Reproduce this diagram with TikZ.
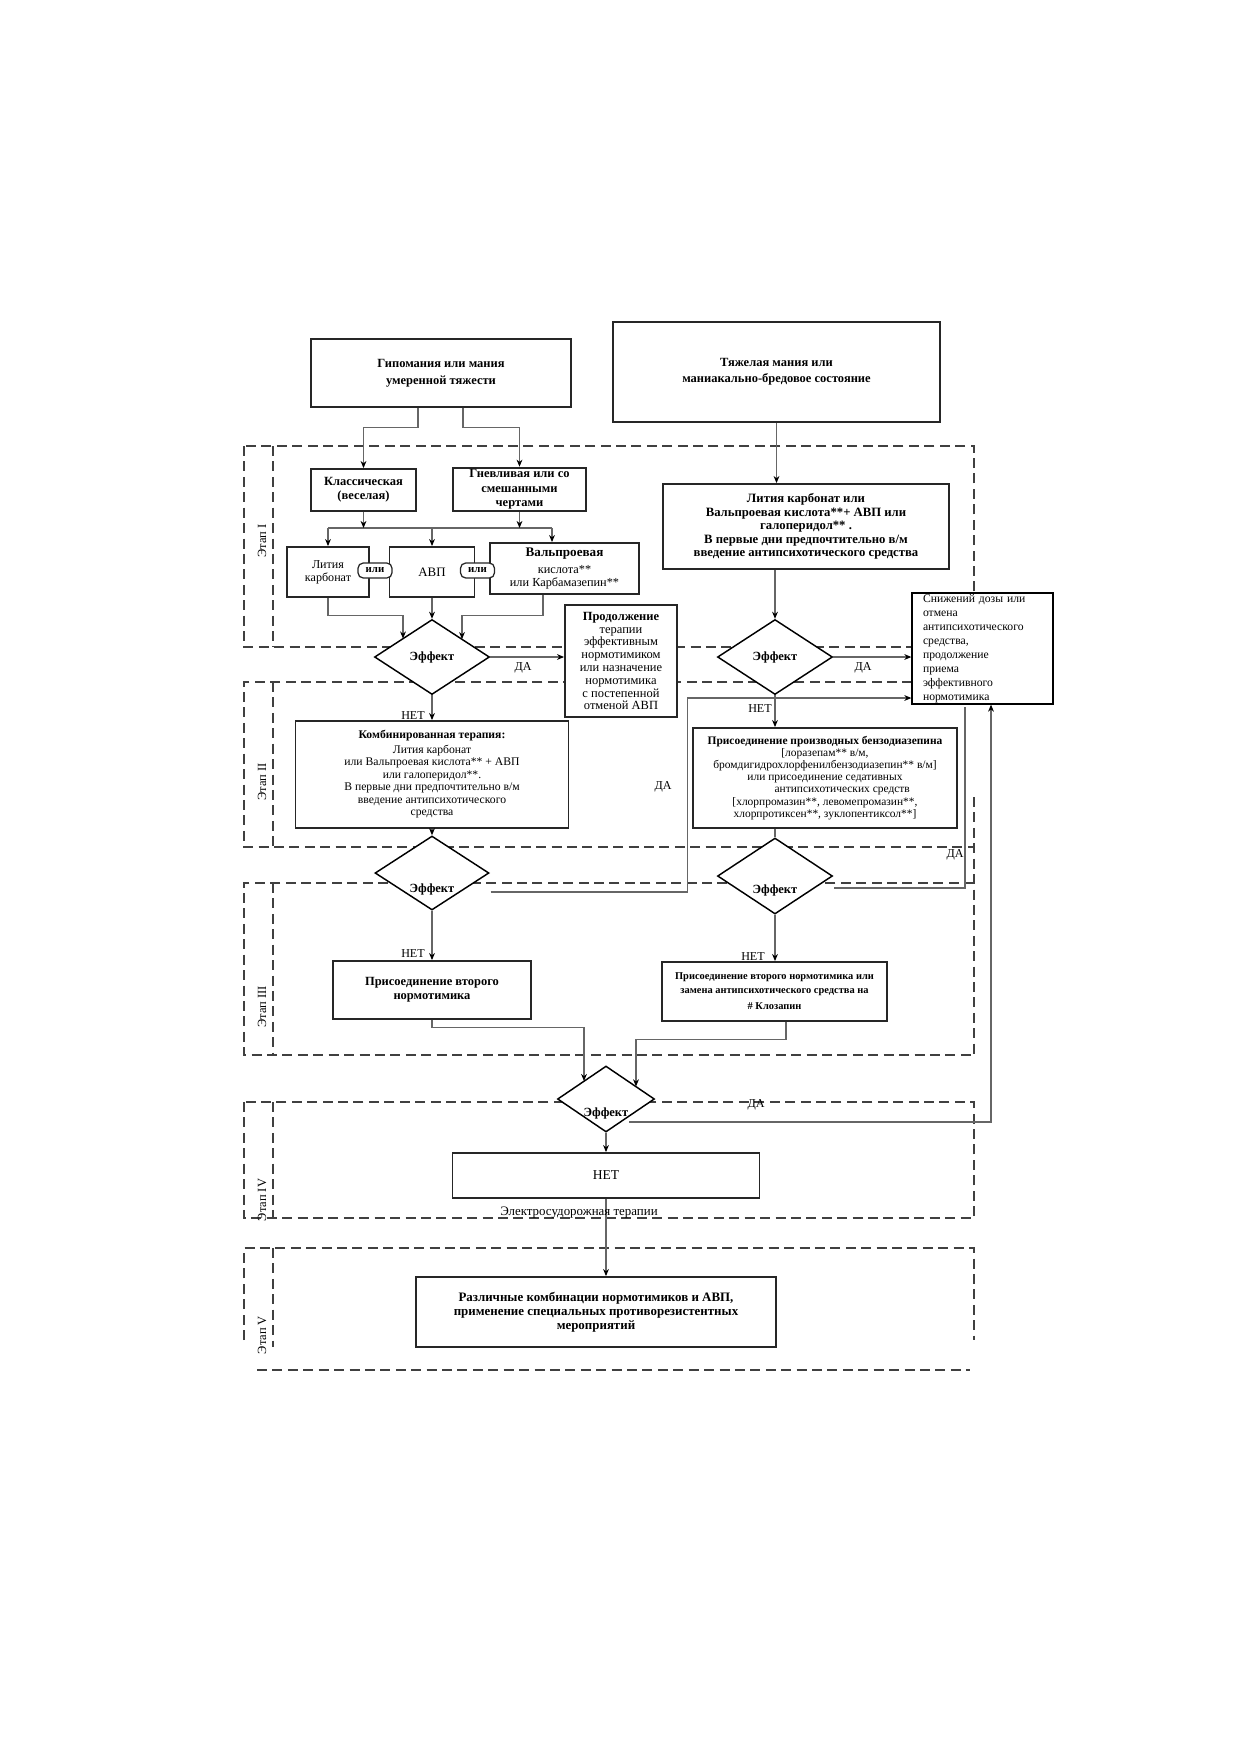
\documentclass[tikz,border=0pt]{standalone}
\usepackage{fontspec}
\setmainfont{Liberation Serif}
\usetikzlibrary{arrows.meta,shapes.geometric,calc}
\pgfdeclarelayer{bg}
\pgfsetlayers{bg,main}
\newcommand\pxw[1]{#1*0.48pt}
\newcommand\myfs[2]{\fontsize{#1}{#2}\selectfont}
\tikzset{
 box/.style={draw=black!85, line width=0.9pt, fill=white, align=center, inner sep=1pt},
 thinbox/.style={draw=black, line width=0.6pt, fill=white},
 conn/.style={draw=black!60, line width=0.5pt},
 arr/.style={conn, -{Stealth[length=3.4pt,width=2.8pt,color=black]}},
 stage/.style={draw=black!75, line width=1pt, dash pattern=on 4.8pt off 2.6pt},
 dec/.style={draw=black, line width=0.7pt, shape=diamond, inner sep=0pt, fill=white},
 lbl/.style={font=\myfs{5.8}{6.5}, inner sep=0pt},
 elbl/.style={font=\myfs{6}{7}\bfseries, inner sep=0pt},
 ili/.style={draw=black!85, line width=0.6pt, fill=white, rounded corners=2.5pt, inner sep=0pt, minimum width=\pxw{34}, minimum height=\pxw{15}, font=\myfs{5.2}{6}\bfseries},
 stlbl/.style={rotate=90, font=\myfs{6}{7}, inner sep=0pt},
}
\begin{document}
\begin{tikzpicture}[x=0.48pt,y=-0.48pt]
\useasboundingbox (0,0) rectangle (1240,1754);
\begin{pgfonlayer}{bg}
\fill[white] (0,0) rectangle (1240,1754);
% Stage I
\draw[stage] (244,446) rectangle (974,647);
\draw[stage] (273,446) -- (273,647);
% Stage II
\draw[stage] (974,682) -- (244,682) -- (244,847) -- (974,847);
\draw[stage] (273,682) -- (273,847);
% Stage III
\draw[stage] (974,883) -- (244,883) -- (244,1055) -- (974,1055);
\draw[stage] (273,883) -- (273,1055);
\draw[stage] (974,797) -- (974,1055);
% Stage IV
\draw[stage] (244,1102) rectangle (974,1218);
\draw[stage] (273,1102) -- (273,1218);
% Stage V
\draw[stage] (244,1340) -- (244,1248) -- (974,1248) -- (974,1340);
\draw[stage] (273,1248) -- (273,1347);
\draw[stage] (257,1370) -- (970,1370);
\end{pgfonlayer}

% stage labels
\node[stlbl] (s1) at (262,541) {Этап I};
\node[stlbl] (s2) at (262,782) {Этап II};
\node[stlbl] (s3) at (262,1007) {Этап III};
\node[stlbl] (s4) at (262,1200) {Этап IV};
\node[stlbl] (s5) at (262,1335) {Этап V};

% nodes
\node[box, minimum width=\pxw{260}, minimum height=\pxw{68}, font=\myfs{6}{8}\bfseries] (top1) at (441,373) {Гипомания или мания\\умеренной тяжести};
\node[box, minimum width=\pxw{327}, minimum height=\pxw{100}, font=\myfs{6}{7.8}\bfseries] (top2) at (776.5,372) {Тяжелая мания или\\маниакально-бредовое состояние};
\node[box, minimum width=\pxw{105}, minimum height=\pxw{42}, font=\myfs{6}{6.9}\bfseries] (klass) at (363.5,490) {Классическая\\(веселая)};
\node[box, minimum width=\pxw{133}, minimum height=\pxw{43}, font=\myfs{6}{6.9}\bfseries] (gnev) at (519.5,489.5) {Гневливая или со\\смешанными\\чертами};
\node[box, minimum width=\pxw{82}, minimum height=\pxw{50}, font=\myfs{5.8}{6.4}] (lit) at (328,572) {Лития\\карбонат};
\node[box, minimum width=\pxw{85}, minimum height=\pxw{50}, font=\myfs{6.2}{7}] (avp) at (432,572) {АВП};
\node[box, minimum width=\pxw{149}, minimum height=\pxw{51}, font=\myfs{5.9}{6.6}] (valp) at (564.5,568.5) {\textbf{\myfs{6.3}{7}Вальпроевая}\\[1.5pt]кислота**\\или Карбамазепин**};
\node[ili] (ili1) at (375,570.5) {или};
\node[ili] (ili2) at (477.5,570.5) {или};
\node[box, minimum width=\pxw{286}, minimum height=\pxw{85}, font=\myfs{6.1}{6.5}\bfseries] (litR) at (806,526.5) {Лития карбонат или\\Вальпроевая кислота**+ АВП или\\галоперидол** .\\В первые дни предпочтительно в/м\\введение антипсихотического средства};

\node[dec, minimum width=\pxw{115}, minimum height=\pxw{75}, label={[elbl]center:Эффект}] (d1L) at (432,657) {};
\node[box, minimum width=\pxw{112}, minimum height=\pxw{112}, font=\myfs{6}{6.15}] (prod) at (621,661) {\textbf{Продолжение}\\терапии\\эффективным\\нормотимиком\\или назначение\\нормотимика\\с постепенной\\отменой АВП};
\node[dec, minimum width=\pxw{115}, minimum height=\pxw{75}, label={[elbl]center:Эффект}] (d1R) at (775,657) {};
\node[thinbox, minimum width=\pxw{141}, minimum height=\pxw{111}, text width=\pxw{119}, inner xsep=\pxw{11}, inner ysep=0pt, align=left, font=\myfs{5.6}{6.7}] (snizh) at (982.5,648.5) {Снижений дозы или\\отмена\\антипсихотического\\средства,\\продолжение\\приема\\эффективного\\нормотимика};

\node[box, minimum width=\pxw{273}, minimum height=\pxw{107}, font=\myfs{5.6}{6}] (komb) at (432,774.5) {\textbf{Комбинированная терапия:}\\[1pt]Лития карбонат\\или Вальпроевая кислота** + АВП\\или галоперидол**.\\В первые дни предпочтительно в/м\\введение антипсихотического\\средства};
\node[box, minimum width=\pxw{264}, minimum height=\pxw{100}, font=\myfs{5.5}{5.8}] (prisR) at (825,778) {\textbf{Присоединение производных бензодиазепина}\\{}[лоразепам** в/м,\\бромдигидрохлорфенилбензодиазепин** в/м]\\или присоединение седативных\\\hspace*{3em}антипсихотических средств\\{}[хлорпромазин**, левомепромазин**,\\хлорпротиксен**, зуклопентиксол**]};

\node[dec, minimum width=\pxw{114}, minimum height=\pxw{74}, label={[elbl,yshift=-\pxw{16}]center:Эффект}] (d2L) at (432,873) {};
\node[dec, minimum width=\pxw{115}, minimum height=\pxw{76}, label={[elbl,yshift=-\pxw{14}]center:Эффект}] (d2R) at (775,876) {};
\node[box, minimum width=\pxw{198}, minimum height=\pxw{58}, font=\myfs{6}{6.9}\bfseries] (vtorL) at (432,990) {Присоединение второго\\нормотимика};
\node[box, minimum width=\pxw{225}, minimum height=\pxw{59}, font=\myfs{5}{6.5}\bfseries] (vtorR) at (774.5,991.5) {Присоединение второго нормотимика или\\замена антипсихотического средства на\\[1.5pt]\# Клозапин};
\node[dec, minimum width=\pxw{97}, minimum height=\pxw{66}, label={[elbl,yshift=-\pxw{14}]center:Эффект}] (d3) at (606,1099) {};
\node[box, minimum width=\pxw{307}, minimum height=\pxw{45}, font=\myfs{6.5}{7}] (net) at (606,1175.5) {НЕТ};
\node[box, minimum width=\pxw{360}, minimum height=\pxw{70}, font=\myfs{6.2}{6.6}\bfseries] (razl) at (596,1312) {Различные комбинации нормотимиков и АВП,\\применение специальных противорезистентных\\мероприятий};

% connectors
\draw[arr] ([xshift=\pxw{-23}]top1.south) -- ++(0,20) -| (klass.north);
\draw[arr] ([xshift=\pxw{22}]top1.south) -- ++(0,20) -| (gnev.north);
\draw[arr] (top2.south) -- (top2.south |- litR.north);

\coordinate (bL) at (328,528);
\coordinate (bR) at (552,528);
\draw[conn] (bL) -- (bR);
\draw[arr] (klass.south) -- (klass.south |- bL);
\draw[arr] (gnev.south) -- (gnev.south |- bL);
\draw[arr] (bL) -- (lit.north);
\draw[arr] (avp.north |- bL) -- (avp.north);
\draw[arr] (bR) -- (bR |- valp.north);

\draw[arr] (lit.south) -- ++(0,18) -| ($(d1L.center)+(-29,-18.5)$);
\draw[arr] (avp.south) -- (d1L.north);
\draw[arr] ([xshift=\pxw{-21.5}]valp.south) -- ++(0,21) -| ($(d1L.center)+(30,-17.9)$);

\draw[arr] (d1L.east) -- (d1L.east -| prod.west);
\draw[arr] (d1L.south) -- (d1L.south |- komb.north);
\draw[arr] (litR.south -| d1R.north) -- (d1R.north);
\draw[arr] (d1R.east) -- (d1R.east -| snizh.west);
\draw[arr] (d1R.south) -- (d1R.south |- prisR.north);

\draw[arr] (komb.south) -- (d2L.north);
\draw[conn] (prisR.south -| d2R.north) -- (d2R.north);

\draw[arr] ($(d2L.east)+(1,19)$) -- ++(197,0) |- ($(snizh.west)+(0,49.5)$);
\draw[arr] (d2L.south) -- (d2L.south |- vtorL.north);
\draw[conn] ($(d2R.east)+(1,12)$) -| ($(snizh.south)+(-17.5,2)$);
\draw[arr] (d2R.south) -- (d2R.south |- vtorR.north);

\draw[arr] (vtorL.south) -- ++(0,8) -| ($(d3.center)+(-22,-18)$);
\draw[arr] ([xshift=\pxw{11.5}]vtorR.south) -- ++(0,18) -| ($(d3.center)+(30,-12.6)$);

\draw[arr] ($(d3.east)+(-26,23)$) -| ($(snizh.south)+(8.5,0)$);
\draw[arr] (d3.south) -- (d3.south |- net.north);
\draw[arr] (net.south) -- (net.south |- razl.north);

% labels
\node[lbl] (da1) at (523,668) {ДА};
\node[lbl] (da2) at (863,668) {ДА};
\node[lbl] (da3) at (663,787) {ДА};
\node[lbl] (da4) at (955,855) {ДА};
\node[lbl] (da5) at (756,1105) {ДА};
\node[lbl] (no1) at (413,716) {НЕТ};
\node[lbl] (no2) at (760,709) {НЕТ};
\node[lbl] (no3) at (413,954) {НЕТ};
\node[lbl] (no4) at (753,957) {НЕТ};
\node[lbl, font=\myfs{6.2}{7}] (ecs) at (579,1213) {Электросудорожная терапии};
\end{tikzpicture}
\end{document}
